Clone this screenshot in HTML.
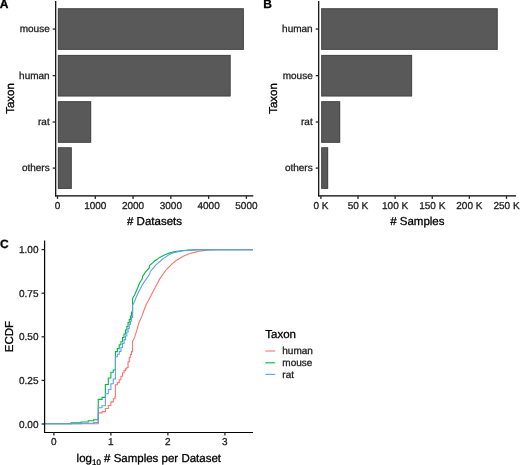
<!DOCTYPE html>
<html><head><meta charset="utf-8"><style>
html,body{margin:0;padding:0;background:#fff;}
body{width:520px;height:465px;overflow:hidden;}
svg{display:block;will-change:transform;}
text{font-family:"Liberation Sans",sans-serif;text-rendering:geometricPrecision;stroke:currentColor;stroke-width:0.3px;paint-order:stroke;}
</style></head><body>
<svg width="520" height="465" viewBox="0 0 520 465">
<rect width="520" height="465" fill="#fff"/>
<rect x="57.90" y="8.35" width="185.86" height="41.40" fill="#595959"/>
<rect x="58.35" y="8.80" width="184.96" height="40.50" fill="none" stroke="#474747" stroke-width="0.9"/>
<rect x="57.90" y="54.95" width="172.63" height="41.40" fill="#595959"/>
<rect x="58.35" y="55.40" width="171.73" height="40.50" fill="none" stroke="#474747" stroke-width="0.9"/>
<rect x="57.90" y="101.30" width="33.22" height="41.40" fill="#595959"/>
<rect x="58.35" y="101.75" width="32.32" height="40.50" fill="none" stroke="#474747" stroke-width="0.9"/>
<rect x="57.90" y="147.40" width="13.77" height="41.40" fill="#595959"/>
<rect x="58.35" y="147.85" width="12.87" height="40.50" fill="none" stroke="#474747" stroke-width="0.9"/>
<line x1="55.7" y1="1.0" x2="55.7" y2="196.5" stroke="#000" stroke-width="1.2"/>
<line x1="55.1" y1="195.9" x2="253.3" y2="195.9" stroke="#000" stroke-width="1.2"/>
<line x1="52.7" y1="29.05" x2="55.7" y2="29.05" stroke="#262626" stroke-width="1.3"/>
<text x="49.7" y="32.35" text-anchor="end" font-size="10" fill="#222222" color="#222222">mouse</text>
<line x1="52.7" y1="75.65" x2="55.7" y2="75.65" stroke="#262626" stroke-width="1.3"/>
<text x="49.7" y="78.95" text-anchor="end" font-size="10" fill="#222222" color="#222222">human</text>
<line x1="52.7" y1="122.0" x2="55.7" y2="122.0" stroke="#262626" stroke-width="1.3"/>
<text x="49.7" y="125.30" text-anchor="end" font-size="10" fill="#222222" color="#222222">rat</text>
<line x1="52.7" y1="168.1" x2="55.7" y2="168.1" stroke="#262626" stroke-width="1.3"/>
<text x="49.7" y="171.40" text-anchor="end" font-size="10" fill="#222222" color="#222222">others</text>
<line x1="57.50" y1="195.9" x2="57.50" y2="198.9" stroke="#262626" stroke-width="1.3"/>
<text x="57.50" y="208.6" text-anchor="middle" font-size="10" fill="#222222" color="#222222">0</text>
<line x1="95.28" y1="195.9" x2="95.28" y2="198.9" stroke="#262626" stroke-width="1.3"/>
<text x="95.28" y="208.6" text-anchor="middle" font-size="10" fill="#222222" color="#222222">1000</text>
<line x1="133.06" y1="195.9" x2="133.06" y2="198.9" stroke="#262626" stroke-width="1.3"/>
<text x="133.06" y="208.6" text-anchor="middle" font-size="10" fill="#222222" color="#222222">2000</text>
<line x1="170.84" y1="195.9" x2="170.84" y2="198.9" stroke="#262626" stroke-width="1.3"/>
<text x="170.84" y="208.6" text-anchor="middle" font-size="10" fill="#222222" color="#222222">3000</text>
<line x1="208.62" y1="195.9" x2="208.62" y2="198.9" stroke="#262626" stroke-width="1.3"/>
<text x="208.62" y="208.6" text-anchor="middle" font-size="10" fill="#222222" color="#222222">4000</text>
<line x1="246.40" y1="195.9" x2="246.40" y2="198.9" stroke="#262626" stroke-width="1.3"/>
<text x="246.40" y="208.6" text-anchor="middle" font-size="10" fill="#222222" color="#222222">5000</text>
<text x="154.50" y="225.4" text-anchor="middle" font-size="11.5" fill="#000" color="#000"># Datasets</text>
<text transform="translate(13.7,98.5) rotate(-90)" text-anchor="middle" font-size="11.5" fill="#000" color="#000">Taxon</text>
<rect x="321.30" y="8.35" width="176.29" height="41.40" fill="#595959"/>
<rect x="321.75" y="8.80" width="175.39" height="40.50" fill="none" stroke="#474747" stroke-width="0.9"/>
<rect x="321.30" y="54.95" width="90.77" height="41.40" fill="#595959"/>
<rect x="321.75" y="55.40" width="89.87" height="40.50" fill="none" stroke="#474747" stroke-width="0.9"/>
<rect x="321.30" y="101.30" width="18.83" height="41.40" fill="#595959"/>
<rect x="321.75" y="101.75" width="17.93" height="40.50" fill="none" stroke="#474747" stroke-width="0.9"/>
<rect x="321.30" y="147.40" width="6.80" height="41.40" fill="#595959"/>
<rect x="321.75" y="147.85" width="5.90" height="40.50" fill="none" stroke="#474747" stroke-width="0.9"/>
<line x1="318.7" y1="1.0" x2="318.7" y2="196.5" stroke="#000" stroke-width="1.2"/>
<line x1="318.09999999999997" y1="195.9" x2="516" y2="195.9" stroke="#000" stroke-width="1.2"/>
<line x1="315.7" y1="29.05" x2="318.7" y2="29.05" stroke="#262626" stroke-width="1.3"/>
<text x="312.7" y="32.35" text-anchor="end" font-size="10" fill="#222222" color="#222222">human</text>
<line x1="315.7" y1="75.65" x2="318.7" y2="75.65" stroke="#262626" stroke-width="1.3"/>
<text x="312.7" y="78.95" text-anchor="end" font-size="10" fill="#222222" color="#222222">mouse</text>
<line x1="315.7" y1="122.0" x2="318.7" y2="122.0" stroke="#262626" stroke-width="1.3"/>
<text x="312.7" y="125.30" text-anchor="end" font-size="10" fill="#222222" color="#222222">rat</text>
<line x1="315.7" y1="168.1" x2="318.7" y2="168.1" stroke="#262626" stroke-width="1.3"/>
<text x="312.7" y="171.40" text-anchor="end" font-size="10" fill="#222222" color="#222222">others</text>
<line x1="320.90" y1="195.9" x2="320.90" y2="198.9" stroke="#262626" stroke-width="1.3"/>
<text x="320.90" y="208.6" text-anchor="middle" font-size="10" fill="#222222" color="#222222">0 K</text>
<line x1="358.02" y1="195.9" x2="358.02" y2="198.9" stroke="#262626" stroke-width="1.3"/>
<text x="358.02" y="208.6" text-anchor="middle" font-size="10" fill="#222222" color="#222222">50 K</text>
<line x1="395.14" y1="195.9" x2="395.14" y2="198.9" stroke="#262626" stroke-width="1.3"/>
<text x="395.14" y="208.6" text-anchor="middle" font-size="10" fill="#222222" color="#222222">100 K</text>
<line x1="432.26" y1="195.9" x2="432.26" y2="198.9" stroke="#262626" stroke-width="1.3"/>
<text x="432.26" y="208.6" text-anchor="middle" font-size="10" fill="#222222" color="#222222">150 K</text>
<line x1="469.38" y1="195.9" x2="469.38" y2="198.9" stroke="#262626" stroke-width="1.3"/>
<text x="469.38" y="208.6" text-anchor="middle" font-size="10" fill="#222222" color="#222222">200 K</text>
<line x1="506.50" y1="195.9" x2="506.50" y2="198.9" stroke="#262626" stroke-width="1.3"/>
<text x="506.50" y="208.6" text-anchor="middle" font-size="10" fill="#222222" color="#222222">250 K</text>
<text x="417.35" y="225.4" text-anchor="middle" font-size="11.5" fill="#000" color="#000"># Samples</text>
<text transform="translate(276.7,98.5) rotate(-90)" text-anchor="middle" font-size="11.5" fill="#000" color="#000">Taxon</text>
<text x="-0.3" y="8.3" font-size="12" font-weight="bold" fill="#000" color="#000">A</text>
<text x="263.2" y="8.4" font-size="12" font-weight="bold" fill="#000" color="#000">B</text>
<text x="0.1" y="247.5" font-size="12" font-weight="bold" fill="#000" color="#000">C</text>
<path d="M44.60,423.80 H98.25 V412.90 H102.07 V411.60 H105.38 V408.50 H108.29 V405.50 H110.90 V401.90 H113.26 V398.70 H115.00 V396.80 H115.41 V384.80 H117.39 V382.60 H119.23 V379.80 H120.94 V376.20 H122.53 V373.00 H124.04 V370.60 H125.45 V368.90 H126.79 V367.50 H128.06 V361.80 H129.27 V357.50 H130.42 V354.50 H131.52 V351.60 H132.57 V341.30 L134.60,337.40 L137.00,329.70 L139.00,322.50 L141.80,316.40 L143.90,310.50 L146.00,305.00 L147.40,302.40 L150.80,295.90 L153.20,291.20 L156.50,285.00 L159.70,278.90 L162.90,274.40 L166.10,269.80 L169.40,266.60 L172.60,263.40 L175.80,260.80 L180.00,258.20 L183.70,256.00 L188.50,254.10 L193.30,252.60 L198.10,251.50 L203.00,250.60 L210.00,250.00 L220.00,249.60 L253.00,249.60" fill="none" stroke="#F8766D" stroke-width="1.1" stroke-linejoin="miter"/>
<path d="M44.60,423.80 H71.06 V422.90 H81.10 V422.00 H88.22 V420.80 H93.74 V419.70 H98.25 V399.40 H102.07 V397.40 H105.38 V384.50 H108.29 V378.00 H110.90 V372.30 H113.26 V370.00 H115.41 V351.60 H117.39 V348.60 H119.23 V344.80 H120.94 V341.80 H122.53 V337.50 H124.04 V334.00 H125.45 V330.00 H126.79 V326.50 H128.06 V322.60 H129.27 V319.50 H130.42 V316.00 H131.52 V312.00 H132.57 V298.50 L134.70,294.80 L137.90,287.30 L139.50,283.00 L142.20,278.70 L142.70,276.30 L145.40,272.20 L149.20,267.90 L149.70,265.20 L153.00,262.60 L154.80,260.80 L157.30,259.30 L159.60,257.40 L161.60,256.60 L164.40,255.00 L169.20,253.10 L174.00,251.80 L178.80,251.10 L183.70,250.50 L188.50,250.10 L200.00,249.60 L253.00,249.60" fill="none" stroke="#00BA38" stroke-width="1.1" stroke-linejoin="miter"/>
<path d="M44.60,423.80 H81.10 V423.30 H93.74 V422.50 H98.25 V407.70 H102.07 V405.80 H105.38 V393.80 H108.29 V389.50 H110.90 V383.80 H113.26 V379.00 H115.41 V356.80 H117.39 V354.20 H119.23 V351.40 H120.94 V347.50 H122.53 V343.50 H124.04 V339.60 H125.45 V336.00 H126.79 V332.00 H128.06 V328.40 H129.27 V324.50 H130.42 V321.00 H131.52 V317.40 H132.57 V305.20 L134.60,301.50 L135.80,298.00 L138.40,292.60 L142.20,285.10 L144.90,280.80 L148.10,276.50 L149.80,273.50 L150.30,271.40 L153.50,267.90 L154.80,266.10 L157.30,263.60 L159.60,261.80 L161.60,259.80 L164.40,257.90 L169.20,254.50 L174.00,252.60 L178.80,251.50 L183.70,250.70 L188.50,250.20 L200.00,249.60 L253.00,249.60" fill="none" stroke="#619CFF" stroke-width="1.1" stroke-linejoin="miter"/>
<line x1="44.6" y1="240.5" x2="44.6" y2="433.1" stroke="#000" stroke-width="1.2"/>
<line x1="44.0" y1="432.5" x2="253.0" y2="432.5" stroke="#000" stroke-width="1.2"/>
<line x1="41.6" y1="249.60" x2="44.6" y2="249.60" stroke="#262626" stroke-width="1.3"/>
<text x="38.50" y="253.10" text-anchor="end" font-size="10" fill="#222222" color="#222222">1.00</text>
<line x1="41.6" y1="293.20" x2="44.6" y2="293.20" stroke="#262626" stroke-width="1.3"/>
<text x="38.50" y="296.70" text-anchor="end" font-size="10" fill="#222222" color="#222222">0.75</text>
<line x1="41.6" y1="336.80" x2="44.6" y2="336.80" stroke="#262626" stroke-width="1.3"/>
<text x="38.50" y="340.30" text-anchor="end" font-size="10" fill="#222222" color="#222222">0.50</text>
<line x1="41.6" y1="380.40" x2="44.6" y2="380.40" stroke="#262626" stroke-width="1.3"/>
<text x="38.50" y="383.90" text-anchor="end" font-size="10" fill="#222222" color="#222222">0.25</text>
<line x1="41.6" y1="424.00" x2="44.6" y2="424.00" stroke="#262626" stroke-width="1.3"/>
<text x="38.50" y="427.50" text-anchor="end" font-size="10" fill="#222222" color="#222222">0.00</text>
<line x1="53.90" y1="432.5" x2="53.90" y2="435.5" stroke="#262626" stroke-width="1.3"/>
<text x="53.90" y="445.3" text-anchor="middle" font-size="10" fill="#222222" color="#222222">0</text>
<line x1="110.90" y1="432.5" x2="110.90" y2="435.5" stroke="#262626" stroke-width="1.3"/>
<text x="110.90" y="445.3" text-anchor="middle" font-size="10" fill="#222222" color="#222222">1</text>
<line x1="167.90" y1="432.5" x2="167.90" y2="435.5" stroke="#262626" stroke-width="1.3"/>
<text x="167.90" y="445.3" text-anchor="middle" font-size="10" fill="#222222" color="#222222">2</text>
<line x1="224.90" y1="432.5" x2="224.90" y2="435.5" stroke="#262626" stroke-width="1.3"/>
<text x="224.90" y="445.3" text-anchor="middle" font-size="10" fill="#222222" color="#222222">3</text>
<text x="148.8" y="462" text-anchor="middle" font-size="11.5" fill="#000" color="#000">log<tspan font-size="8" dy="2.6">10</tspan><tspan dy="-2.6"> # Samples per Dataset</tspan></text>
<text transform="translate(13.1,336.6) rotate(-90)" text-anchor="middle" font-size="11.5" fill="#000" color="#000">ECDF</text>
<text x="265.3" y="337.7" font-size="11.5" fill="#000" color="#000">Taxon</text>
<line x1="265.3" y1="351" x2="275.2" y2="351" stroke="#F8766D" stroke-width="1.1"/>
<text x="282.3" y="354.4" font-size="10" fill="#222222" color="#222222">human</text>
<line x1="265.3" y1="362.8" x2="275.2" y2="362.8" stroke="#00BA38" stroke-width="1.1"/>
<text x="282.3" y="366.3" font-size="10" fill="#222222" color="#222222">mouse</text>
<line x1="265.3" y1="374.4" x2="275.2" y2="374.4" stroke="#619CFF" stroke-width="1.1"/>
<text x="282.3" y="378.1" font-size="10" fill="#222222" color="#222222">rat</text>
</svg>
</body></html>
